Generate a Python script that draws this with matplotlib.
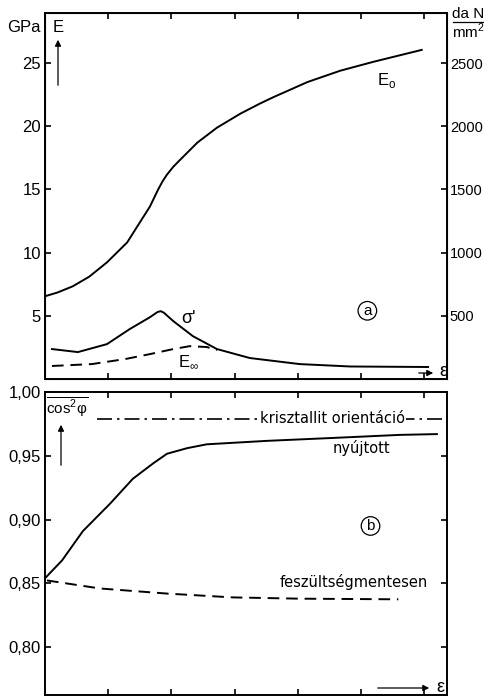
import matplotlib
matplotlib.use("Agg")
import matplotlib.pyplot as plt
from matplotlib.patches import FancyArrowPatch

W, H = 484, 697

# --- panel a: E (GPa) vs strain ---
e0_x = [0, 0.2, 0.44, 0.7, 0.98, 1.30, 1.50, 1.66, 1.79, 1.86, 1.93, 2.03, 2.14, 2.41, 2.72, 3.09, 3.40, 3.61, 4.15, 4.67, 5.19, 5.96]
e0_y = [6.55, 6.85, 7.34, 8.1, 9.23, 10.81, 12.39, 13.65, 15.0, 15.65, 16.18, 16.8, 17.36, 18.71, 19.89, 21.0, 21.8, 22.3, 23.5, 24.4, 25.1, 26.05]

sig_x = [0.11, 0.52, 0.98, 1.34, 1.66, 1.78, 1.83, 1.88, 2.03, 2.34, 2.72, 3.24, 4.03, 4.83, 6.06]
sig_y = [2.37, 2.13, 2.76, 3.95, 4.89, 5.30, 5.37, 5.25, 4.58, 3.39, 2.37, 1.66, 1.18, 0.99, 0.95]

einf_x = [0.11, 0.74, 1.27, 1.66, 2.03, 2.29, 2.56, 2.72]
einf_y = [1.03, 1.18, 1.58, 1.97, 2.37, 2.60, 2.53, 2.29]

# --- panel b: cos^2 phi vs strain ---
ny_x = [0, 0.27, 0.60, 1.03, 1.39, 1.71, 1.93, 2.25, 2.56, 3.51, 4.56, 5.62, 6.20]
ny_y = [0.854, 0.868, 0.891, 0.9125, 0.932, 0.944, 0.9516, 0.956, 0.959, 0.9617, 0.964, 0.9664, 0.967]

fesz_x = [0.03, 0.87, 1.93, 2.97, 4.03, 5.59]
fesz_y = [0.8523, 0.846, 0.842, 0.839, 0.838, 0.8375]

kriszt_x = [0.82, 6.36]
kriszt_y = [0.979, 0.979]

a_ticks = [5, 10, 15, 20, 25]
a_right_ticks = [500, 1000, 1500, 2000, 2500]
b_ticks = [0.80, 0.85, 0.90, 0.95, 1.00]
x_ticks = [1, 2, 3, 4, 5, 6]

plt.rcParams['font.family'] = ["Liberation Sans", "DejaVu Sans"]
LABEL_FONT = ["DejaVu Sans"]


def px(x, y):
    return x / W, 1 - y / H


def arrow(p0, p1):
    fig.patches.append(FancyArrowPatch(px(*p0), px(*p1), transform=fig.transFigure,
                                       arrowstyle='-|>', mutation_scale=9, lw=0.9,
                                       color='black'))


fig = plt.figure(figsize=(W / 100, H / 100), dpi=100)

axa = fig.add_axes([45 / W, 1 - 379 / H, (447 - 45) / W, (379 - 13) / H])
axb = fig.add_axes([45 / W, 1 - 695 / H, (447 - 45) / W, (695 - 392) / H])

for ax in (axa, axb):
    ax.set_xlim(0, 6.36)
    ax.set_xticks(x_ticks)
    ax.set_xticklabels([])
    ax.tick_params(direction='in', length=4, width=1.2, top=True, right=True,
                   labelsize=12, pad=3)
    for s in ax.spines.values():
        s.set_linewidth(1.4)

# panel a
axa.plot(e0_x, e0_y, color='black', lw=1.4)
axa.plot(sig_x, sig_y, color='black', lw=1.4)
axa.plot(einf_x, einf_y, color='black', lw=1.4, dashes=(6, 3.5))
axa.set_ylim(0, 28.97)
axa.set_yticks(a_ticks)
axa.set_yticklabels([str(t) for t in a_ticks])

axr = axa.twinx()
axr.set_ylim(0, 2897)
axr.set_yticks(a_right_ticks)
axr.set_yticklabels([str(t) for t in a_right_ticks])
axr.tick_params(direction='in', length=4, width=1.2, labelsize=10.5, pad=2)
axa.tick_params(right=False)

axa.text(5.4, 23.6, "E$_\\mathregular{o}$", fontsize=12, ha='center', va='center')
axa.text(2.27, 4.75, "σ'", fontsize=13, ha='center', va='center')
axa.text(2.27, 1.35, "E$_\\mathregular{\\infty}$", fontsize=12, ha='center', va='center')
axa.text(5.1, 5.4, "a", fontsize=11, ha='center', va='center',
         bbox=dict(boxstyle='circle,pad=0.15', fc='white', ec='black', lw=0.9))

# panel b
axb.plot(ny_x, ny_y, color='black', lw=1.4)
axb.plot(fesz_x, fesz_y, color='black', lw=1.4, dashes=(6, 3.5))
axb.plot(kriszt_x, kriszt_y, color='black', lw=1.2, dashes=(9, 3, 1.5, 3))
axb.set_ylim(0.7625, 1.0)
axb.set_yticks(b_ticks)
axb.set_yticklabels([f"{t:.2f}".replace('.', ',') for t in b_ticks])

axb.text(4.55, 0.979, "krisztallit orientáció", fontsize=10.5, ha='center', va='center',
         family=LABEL_FONT, bbox=dict(boxstyle='square,pad=0.05', fc='white', ec='none'))
axb.text(5.0, 0.956, "nyújtott", fontsize=10.5, ha='center', va='center', family=LABEL_FONT)
axb.text(4.88, 0.851, "feszültségmentesen", fontsize=10.5, ha='center', va='center',
         family=LABEL_FONT)
axb.text(5.15, 0.895, "b", fontsize=11, ha='center', va='center',
         bbox=dict(boxstyle='circle,pad=0.15', fc='white', ec='black', lw=0.9))

# axis captions and arrows
fig.text(*px(24, 27), "GPa", fontsize=12, ha='center', va='center')
fig.text(*px(58, 27), "E", fontsize=12, ha='center', va='center')
arrow((58, 88), (58, 37))

fig.text(*px(468, 14), "da N", fontsize=11, ha='center', va='center')
fig.add_artist(plt.Line2D([px(453, 0)[0], 1.0], [px(0, 22)[1]] * 2,
                          transform=fig.transFigure, color='black', lw=0.9))
fig.text(*px(468, 31), "mm$^\\mathregular{2}$", fontsize=11, ha='center', va='center')

fig.text(*px(67, 407), "$\\overline{\\mathregular{cos^2\\varphi}}$", fontsize=11,
         ha='center', va='center')
arrow((61, 468), (61, 422))

# strain arrows
arrow((416, 373), (436, 373))
fig.text(*px(443, 372), "ε", fontsize=13, ha='center', va='center')
arrow((375, 688), (432, 688))
fig.text(*px(440, 687), "ε", fontsize=13, ha='center', va='center')

fig.savefig("out.png", dpi=100)
